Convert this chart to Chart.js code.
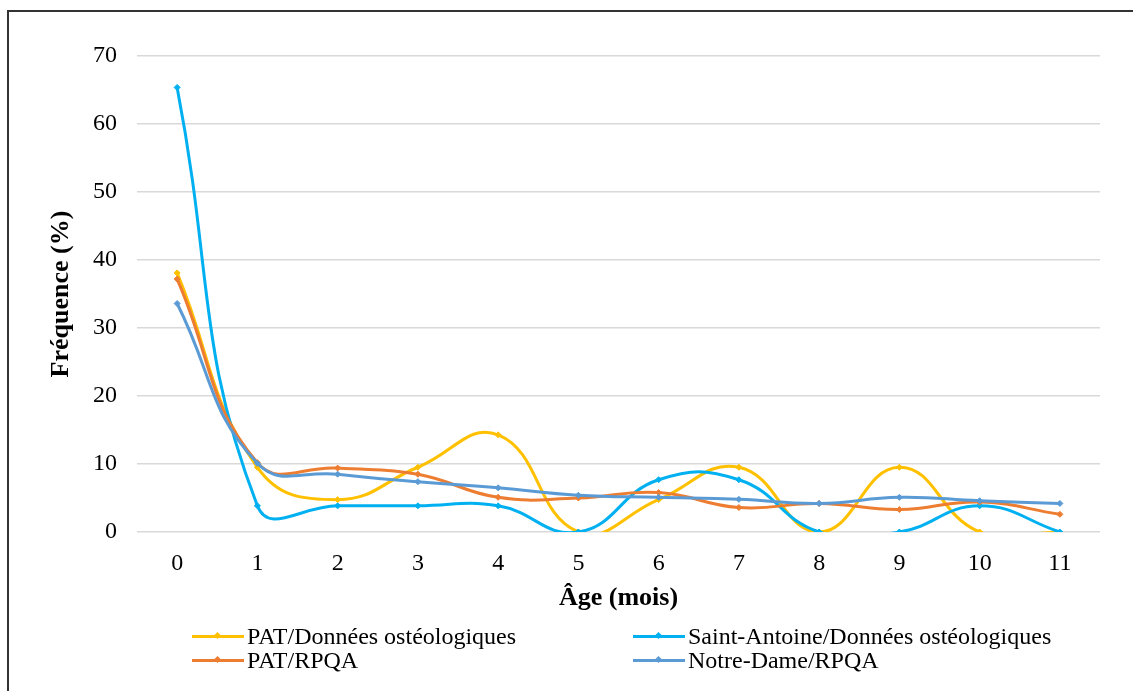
<!DOCTYPE html>
<html lang="fr">
<head>
<meta charset="utf-8">
<title>Fréquence selon l'âge (mois)</title>
<script src="https://cdn.jsdelivr.net/npm/chart.js@4"></script>
<style>
  html, body { margin: 0; padding: 0; background: #fff; overflow: hidden; }
  #wrap { position: relative; width: 1133px; height: 691px; }
  #frame { position: absolute; left: 7px; top: 10px; width: 1300px; height: 900px;
           border-left: 2px solid #333; border-top: 2px solid #333; box-sizing: border-box; }
  canvas { position: absolute; left: 0; top: 0; }
  .leg { position: absolute; font-family: "Liberation Serif", "Times New Roman", serif;
         font-size: 24px; color: #000; white-space: nowrap; line-height: 24px; }
  .leg .sw { position: absolute; left: 0; top: 11px; width: 52px; height: 3px; }
  .leg .mk { position: absolute; left: 23px; top: 9px; width: 5px; height: 5px; transform: rotate(45deg); }
  .leg .tx { position: absolute; left: 55px; top: 0; }
</style>
</head>
<body>
<div id="wrap">
  <div id="frame"></div>
  <canvas id="c" width="1133" height="691"></canvas>
  <div id="legend"></div>
</div>
<script>
// Age in months
const categories = ['0', '1', '2', '3', '4', '5', '6', '7', '8', '9', '10', '11'];

// Frequency (%) for each series
const patOsteo = [38.1, 9.52, 4.76, 9.52, 14.29, 0, 4.76, 9.52, 0, 9.52, 0, 0];
const saintAntoineOsteo = [65.38, 3.85, 3.85, 3.85, 3.85, 0, 7.69, 7.69, 0, 0, 3.85, 0];
const patRpqa = [37.2, 10.2, 9.4, 8.5, 5.1, 5.0, 5.8, 3.6, 4.2, 3.3, 4.4, 2.6];
const notreDameRpqa = [33.6, 10.1, 8.5, 7.4, 6.5, 5.4, 5.1, 4.8, 4.2, 5.1, 4.6, 4.2];

const seriesLabels = [
  'PAT/Données ostéologiques',
  'Saint-Antoine/Données ostéologiques',
  'PAT/RPQA',
  'Notre-Dame/RPQA'
];
const seriesColors = ['#FFC000', '#00B0F0', '#ED7D31', '#5B9BD5'];
const seriesValues = [patOsteo, saintAntoineOsteo, patRpqa, notreDameRpqa];

// Y axis tick values
const yTicks = [0, 10, 20, 30, 40, 50, 60, 70];

const serif = '"Liberation Serif", "Times New Roman", serif';

const datasets = seriesValues.map((vals, i) => ({
  label: seriesLabels[i],
  data: vals,
  borderColor: seriesColors[i],
  backgroundColor: seriesColors[i],
  borderWidth: 3,
  tension: 0.45,
  capBezierPoints: false,
  pointStyle: 'rectRot',
  pointRadius: 3,
  pointBorderWidth: 1,
  pointHoverRadius: 3,
  fill: false,
  order: seriesValues.length - i   // later series painted on top
}));

const chart = new Chart(document.getElementById('c'), {
  type: 'line',
  data: { labels: categories, datasets },
  options: {
    responsive: false,
    animation: false,
    devicePixelRatio: 1,
    layout: { padding: { left: 46, right: 33, top: 56, bottom: 77 } },
    plugins: { legend: { display: false }, tooltip: { enabled: false } },
    scales: {
      x: {
        offset: true,
        grid: { display: false, drawTicks: false },
        border: { display: false },
        ticks: { color: '#000', font: { family: serif, size: 24 }, padding: 17, maxRotation: 0 },
        title: { display: true, text: 'Âge (mois)', color: '#000',
                 font: { family: serif, size: 26, weight: 'bold' }, padding: 0 },
        afterFit: s => { s.height = 82; }
      },
      y: {
        min: 0, max: 70,
        afterBuildTicks: s => { s.ticks = yTicks.map(v => ({ value: v })); },
        grid: { color: '#D9D9D9', lineWidth: 1.5, drawTicks: false },
        border: { display: false },
        ticks: { color: '#000', font: { family: serif, size: 24 }, padding: 20 },
        title: { display: true, text: 'Fréquence (%)', color: '#000',
                 font: { family: serif, size: 26, weight: 'bold' }, padding: 0 },
        afterFit: s => { s.width = 91; }
      }
    }
  }
});

// Two-column legend below the plot, built from the chart's datasets
const legendPos = [
  { left: 192, top: 624 }, { left: 633, top: 624 },
  { left: 192, top: 648 }, { left: 633, top: 648 }
];
const legendEl = document.getElementById('legend');
chart.data.datasets.forEach((ds, i) => {
  const item = document.createElement('div');
  item.className = 'leg';
  item.style.left = legendPos[i].left + 'px';
  item.style.top = legendPos[i].top + 'px';
  item.innerHTML = '<span class="sw"></span><span class="mk"></span><span class="tx"></span>';
  item.querySelector('.sw').style.background = ds.borderColor;
  item.querySelector('.mk').style.background = ds.borderColor;
  item.querySelector('.tx').textContent = ds.label;
  legendEl.appendChild(item);
});
</script>
</body>
</html>
